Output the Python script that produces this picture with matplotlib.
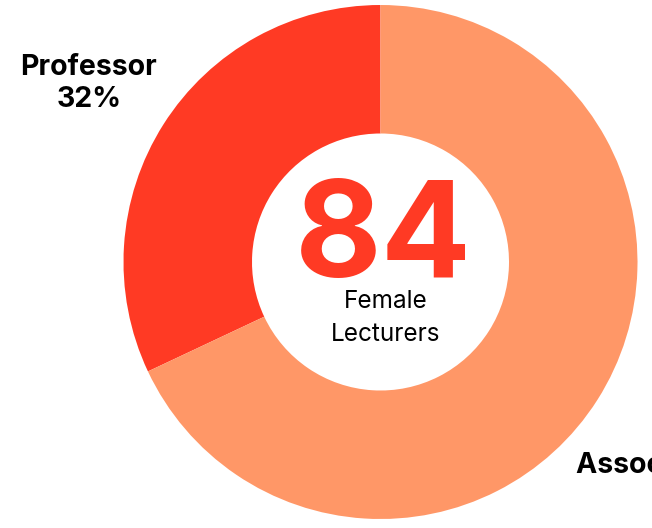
import matplotlib.pyplot as plt

labels = ["Professor", "Associate Professor"]
shares = [32, 68]
colors = ["#FF3A24", "#FF9767"]
total = "84"
subtitle = ["Female", "Lecturers"]

plt.rcParams['font.family'] = ['Inter', 'DejaVu Sans']

fig = plt.figure(figsize=(6.52, 5.28), dpi=100)
ax = fig.add_axes([0, 0, 1, 1])

# donut, first slice starts at 12 o'clock going counter-clockwise
ax.pie(shares, colors=colors, startangle=90, counterclock=True,
       center=(380.5, 266), radius=257,
       wedgeprops=dict(width=128.5, linewidth=0), frame=True)
ax.set_xlim(0, 652)
ax.set_ylim(0, 528)
ax.set_aspect('equal')
ax.axis('off')

H = 528
ax.text(89, H - 75, labels[0], ha="center", va="baseline",
        fontsize=20.5, fontweight="bold", color="black")
ax.text(89, H - 107, str(shares[0]) + "%", ha="center", va="baseline",
        fontsize=20.5, fontweight="bold", color="black")

# second label is centred past the right edge, only its start shows
ax.text(576, H - 473, labels[1], ha="left", va="baseline",
        fontsize=20.5, fontweight="bold", color="black", clip_on=False)
ax.text(740, H - 505, str(shares[1]) + "%", ha="center", va="baseline",
        fontsize=20.5, fontweight="bold", color="black", clip_on=False)

ax.text(383, H - 277, total, ha="center", va="baseline", fontsize=96,
        fontweight="bold", color=colors[0])
ax.text(386, H - 308, subtitle[0], ha="center", va="baseline", fontsize=17.5,
        color="black")
ax.text(386, H - 341, subtitle[1], ha="center", va="baseline", fontsize=17.5,
        color="black")

fig.savefig("out.png", dpi=100)
